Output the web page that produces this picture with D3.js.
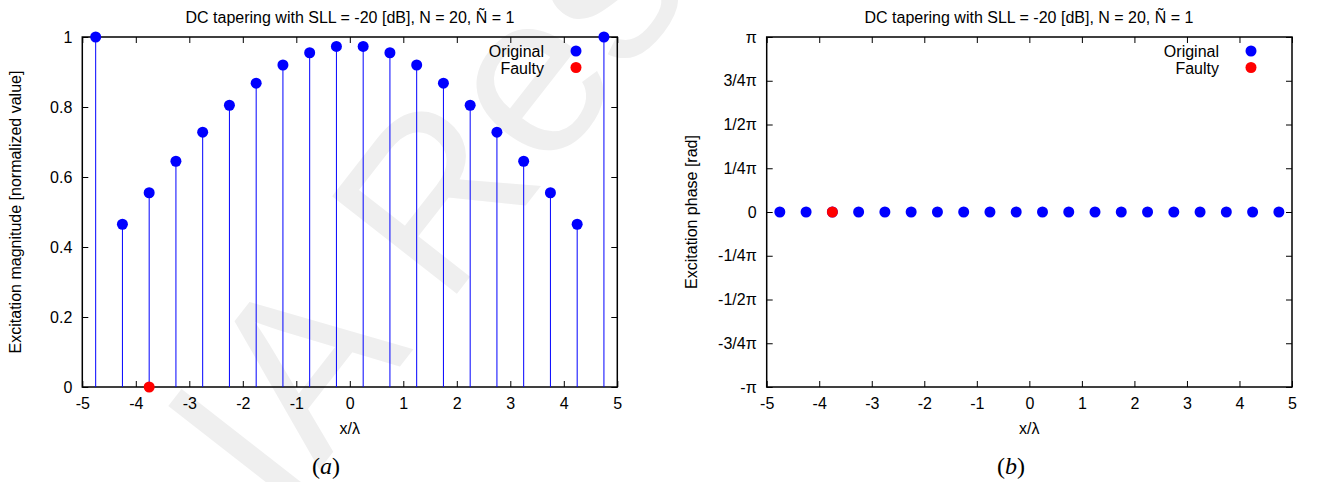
<!DOCTYPE html>
<html>
<head>
<meta charset="utf-8">
<script src="https://cdn.jsdelivr.net/npm/d3@7"></script>
<style>
body{margin:0;background:#fff;}
svg text{font-family:"Liberation Sans",Arial,sans-serif;}
</style>
</head>
<body>
<svg id="c" width="1322" height="482"></svg>
<script>
const positions = [-4.75,-4.25,-3.75,-3.25,-2.75,-2.25,-1.75,-1.25,-0.75,-0.25,0.25,0.75,1.25,1.75,2.25,2.75,3.25,3.75,4.25,4.75];
const magnitude = [1,0.465,0.555,0.645,0.728,0.805,0.868,0.92,0.955,0.973,0.973,0.955,0.92,0.868,0.805,0.728,0.645,0.555,0.465,1];
const phase = [0,0,0,0,0,0,0,0,0,0,0,0,0,0,0,0,0,0,0,0];
const faultyPositions = [-3.75];
const faultyMagnitude = [0];
const faultyPhase = [0];
const xTicks = [-5,-4,-3,-2,-1,0,1,2,3,4,5];
const magTicks = [0,0.2,0.4,0.6,0.8,1];
const magTickLabels = ["0","0.2","0.4","0.6","0.8","1"];
const phaseTickValues = [-1,-0.75,-0.5,-0.25,0,0.25,0.5,0.75,1];
const phaseTickLabels = ["-π","-3/4π","-1/2π","-1/4π","0","1/4π","1/2π","3/4π","π"];
const titleText = "DC tapering with SLL = -20 [dB], N = 20, Ñ = 1";
const legendLabels = ["Original","Faulty"];

const svg = d3.select("#c");
const BLUE = "#0000ff", RED = "#ff0000";
const FONT = "'Liberation Sans',Arial,sans-serif";

// watermark
svg.append("text").attr("x",0).attr("y",0)
  .attr("transform","translate(280,520) rotate(-52)")
  .attr("font-size",230).attr("fill","#efefef")
  .style("font-family",FONT)
  .text("IA Res");

function panel(opts){
  const g = svg.append("g");
  const x = d3.scaleLinear().domain([-5,5]).range([opts.x0,opts.x1]);
  const y = d3.scaleLinear().domain(opts.ydom).range([387,37]);
  const tickLen = 6;
  const xb = g.append("g").attr("transform","translate(0,387)")
    .call(d3.axisBottom(x).tickValues(xTicks).tickSize(-tickLen).tickPadding(11).tickFormat(d=>String(d)));
  const xt = g.append("g").attr("transform","translate(0,37)")
    .call(d3.axisTop(x).tickValues(xTicks).tickSize(-tickLen).tickFormat(""));
  const yl = g.append("g").attr("transform",`translate(${opts.x0},0)`)
    .call(d3.axisLeft(y).tickValues(opts.yticks).tickSize(-tickLen).tickPadding(10).tickFormat((d,i)=>opts.ylabels[i]));
  const yr = g.append("g").attr("transform",`translate(${opts.x1},0)`)
    .call(d3.axisRight(y).tickValues(opts.yticks).tickSize(-tickLen).tickFormat(""));
  [xb,xt,yl,yr].forEach(a=>{
    a.select(".domain").remove();
    a.attr("font-family",null);
    a.selectAll(".tick line").attr("stroke","#000").attr("stroke-width",1);
    a.selectAll("text").attr("font-size",16).attr("fill","#000").style("font-family",FONT);
  });
  g.append("rect").attr("x",opts.x0).attr("y",37).attr("width",opts.x1-opts.x0).attr("height",350)
    .attr("fill","none").attr("stroke","#000").attr("stroke-width",1.5);
  const data = positions.map((p,i)=>({p, v: opts.values[i]}));
  if(opts.stems){
    g.selectAll(".stem").data(data).join("line")
      .attr("x1",d=>x(d.p)).attr("x2",d=>x(d.p))
      .attr("y1",y(0)).attr("y2",d=>y(d.v))
      .attr("stroke",BLUE).attr("stroke-width",1);
  }
  g.selectAll(".pt").data(data).join("circle")
    .attr("cx",d=>x(d.p)).attr("cy",d=>y(d.v)).attr("r",5.5).attr("fill",BLUE);
  const fdata = faultyPositions.map((p,i)=>({p, v: opts.fvalues[i]}));
  g.selectAll(".fpt").data(fdata).join("circle")
    .attr("cx",d=>x(d.p)).attr("cy",d=>y(d.v)).attr("r",5.5).attr("fill",RED);
  g.append("text").attr("x",opts.titleX).attr("y",23).attr("text-anchor","middle")
    .attr("font-size",16).style("font-family",FONT).text(titleText);
  g.append("text").attr("x",(opts.x0+opts.x1)/2).attr("y",434).attr("text-anchor","middle")
    .attr("font-size",16).style("font-family",FONT).text("x/λ");
  g.append("text").attr("transform",`translate(${opts.ylabX},212) rotate(-90)`)
    .attr("text-anchor","middle").attr("font-size",16).style("font-family",FONT).text(opts.ylabel);
  const colors=[BLUE,RED];
  legendLabels.forEach((l,i)=>{
    g.append("text").attr("x",opts.legX).attr("y",57+i*16.5).attr("text-anchor","end")
      .attr("font-size",16).style("font-family",FONT).text(l);
    g.append("circle").attr("cx",opts.legX+32).attr("cy",51+i*16.5).attr("r",5.5).attr("fill",colors[i]);
  });
  const cap = g.append("text").attr("x",opts.capX).attr("y",474).attr("text-anchor","middle")
    .attr("font-size",24).style("font-family","'Liberation Serif','DejaVu Serif',serif");
  cap.append("tspan").text("(");
  cap.append("tspan").attr("font-style","italic").text(opts.cap);
  cap.append("tspan").text(")");
}

panel({x0:82.3,x1:617.3,ydom:[0,1],yticks:magTicks,ylabels:magTickLabels,
  values:magnitude,fvalues:faultyMagnitude,stems:true,titleX:350,ylabX:21,
  ylabel:"Excitation magnitude [normalized value]",legX:544,capX:326,cap:"a"});

panel({x0:766.7,x1:1292,ydom:[-Math.PI,Math.PI],yticks:phaseTickValues.map(v=>v*Math.PI),
  ylabels:phaseTickLabels,
  values:phase,fvalues:faultyPhase,stems:false,titleX:1029,ylabX:697,
  ylabel:"Excitation phase [rad]",legX:1219,capX:1011,cap:"b"});
</script>
</body>
</html>
